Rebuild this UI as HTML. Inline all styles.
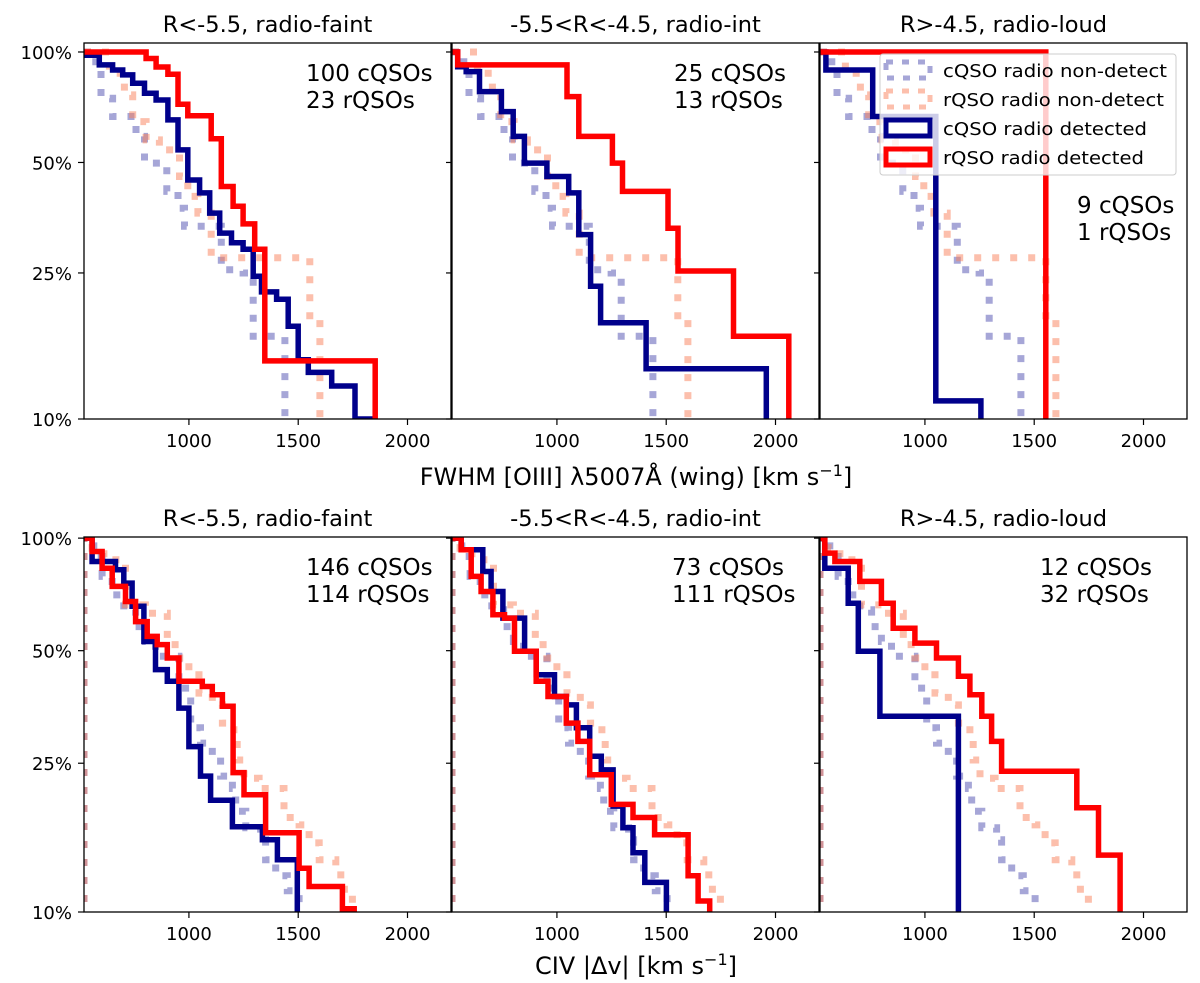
<!DOCTYPE html>
<html><head><meta charset="utf-8">
<style>
html,body{margin:0;padding:0;background:#fff;overflow:hidden;width:1200px;height:983px;}
svg{display:block;font-family:"DejaVu Sans","Liberation Sans",sans-serif;}
</style></head>
<body>
<svg id="fig" width="1200" height="983" viewBox="0 0 1200 983" xmlns="http://www.w3.org/2000/svg">
<rect x="0" y="0" width="1200" height="983" fill="#fff"/>
</svg>
<script>
// ---- data ----
const xTickValues = [1000, 1500, 2000];
const yTickValues = [100, 50, 25, 10];
const yTickLabels = ["100%", "50%", "25%", "10%"];
const topTitles = ["R<-5.5, radio-faint", "-5.5<R<-4.5, radio-int", "R>-4.5, radio-loud"];
const botTitles = ["R<-5.5, radio-faint", "-5.5<R<-4.5, radio-int", "R>-4.5, radio-loud"];
const topCountsC = ["100 cQSOs", "25 cQSOs", "9 cQSOs"];
const topCountsR = ["23 rQSOs", "13 rQSOs", "1 rQSOs"];
const botCountsC = ["146 cQSOs", "73 cQSOs", "12 cQSOs"];
const botCountsR = ["114 rQSOs", "111 rQSOs", "32 rQSOs"];

// top row: non-detect (shared)
const top_cnd_x = [520,552,598,651,758,797,899,950,980,1148,1248,1294,1439];
const top_cnd_p = [100,94.1,74.8,66.7,58.9,49.8,41.7,37.5,33.5,25.5,25,16.8,1];
const top_rnd_x = [520,636,705,743,804,865,957,995,1041,1102,1553,1599];
const top_rnd_p = [100,87.5,76.4,64.6,57.6,54.1,45.8,40.4,36.4,27.5,18.7,1];
// top-left
const tl_red_x = [520,804,850,904,950,995,1102,1148,1202,1248,1301,1347,1852];
const tl_red_p = [100,96,91,87,72,67,58,43,38,34,29,14.4,1];
const tl_blue_x = [520,590,651,697,743,797,850,904,950,995,1049,1095,1141,1195,1248,1294,1332,1401,1454,1500,1546,1653,1760,1829];
const tl_blue_p = [98,92.2,89.3,86.6,82.2,77.2,74.0,65.3,54.1,44.8,41.3,36.4,32.1,30.2,29.0,24.5,22.2,21.2,17.9,14.5,13.4,12.3,10,1];
// top-mid
const tm_red_x = [520,546,1046,1100,1254,1300,1508,1554,1808,2061];
const tm_red_p = [100,92.2,75.6,58.9,49.8,41.7,33.1,25.3,16.8,1];
const tm_blue_x = [520,546,585,646,746,800,851,954,1054,1100,1154,1200,1408,1958];
const tm_blue_p = [100,91.2,88.4,78.0,68.8,58.9,49.8,45.8,41.3,31.8,23.0,18.3,13.7,1];
// top-right
const tr_red_x = [520,1553];
const tr_red_p = [100,1];
const tr_blue_x = [520,547,761,1050,1256];
const tr_blue_p = [100,89.3,66.7,11.2,1];

// bottom row: non-detect (shared)
const bot_cnd_x = [520,565,603,649,702,756,801,847,954,1008,1053,1107,1145,1199,1214,1260,1328,1351,1397,1450,1504];
const bot_cnd_p = [100,89.3,79.0,70.5,64.3,58.0,52.9,48.3,39.7,31.1,28.3,26.1,23.1,21.4,18.6,16.8,15.6,13.8,12.5,11.4,1];
const bot_rnd_x = [520,557,611,710,801,901,954,1000,1046,1107,1153,1206,1221,1252,1321,1435,1504,1550,1596,1672,1695,1748];
const bot_rnd_p = [100,94.0,87.5,66.3,63.0,51.9,47.8,43.1,38.5,35.8,32.0,29.5,25.5,22.8,21.4,17.9,17.1,15.3,13.8,13.1,11.5,1];
// bottom-left
const bl_red_x = [520,557,603,649,710,756,809,855,901,954,1061,1107,1153,1202,1252,1351,1504,1550,1702,1756];
const bl_red_p = [100,92.1,83.1,74.3,67.7,59.8,54.6,51.9,47.8,41.4,40.1,38.1,35.5,23.6,20.6,16.3,13.1,11.7,10.2,1];
const bl_blue_x = [520,557,664,702,740,794,847,901,954,1000,1053,1099,1199,1336,1405,1496];
const bl_blue_p = [100,86.6,82.3,75.8,65.7,52.9,44.5,41.4,35.1,27.7,23.1,19.9,16.9,15.6,13.8,1];
// bottom-mid
const bm_red_x = [520,562,608,653,707,760,806,905,959,1043,1096,1150,1249,1348,1447,1600,1646,1699];
const bm_red_p = [100,93.1,79.0,72.0,62.4,61.1,49.8,41.4,37.7,32.0,28.6,23.3,19.4,17.9,16.1,12.5,10.7,1];
const bm_blue_x = [520,562,661,699,753,852,905,989,1043,1089,1150,1203,1257,1302,1348,1402,1501];
const bm_blue_p = [100,93.1,81.4,72.0,61.1,49.8,43.1,37.7,35.8,31.1,26.1,24.0,19.2,16.8,14.4,12.0,1];
// bottom-right
const br_red_x = [520,542,588,702,801,855,954,1053,1153,1206,1260,1305,1351,1695,1794,1893];
const br_red_p = [100,91.2,86.6,76.6,67.0,57.4,52.4,47.8,42.7,38.1,33.4,28.6,23.8,19.0,14.2,1];
const br_blue_x = [520,542,649,695,794,1153];
const br_blue_p = [100,83.1,67.0,49.8,33.4,1];

// ---- drawing ----
const NS = "http://www.w3.org/2000/svg";
const svg = document.getElementById('fig');
const XMIN = 520, XMAX = 2199, PW = 367;
const panelLefts = [84, 452, 820];
const rows = [
  {top: 43, bottom: 419, pmax: 105.8},
  {top: 537, bottom: 912, pmax: 100.7}
];
function mk(tag, attrs, parent) {
  const e = document.createElementNS(NS, tag);
  for (const k in attrs) e.setAttribute(k, attrs[k]);
  (parent || svg).appendChild(e);
  return e;
}
function xScale(left, v) { return left + (v - XMIN) / (XMAX - XMIN) * PW; }
function yScale(row, p) {
  const r = rows[row];
  const y = r.top + Math.log2(r.pmax / p) / Math.log2(r.pmax / 10) * (r.bottom - r.top);
  return Math.min(y, r.bottom + 8);
}
function stepPath(row, left, xs, ps, fromBottom) {
  let d = "";
  if (fromBottom) d = "M" + xScale(left, xs[0]).toFixed(1) + "," + (rows[row].bottom + 8) + " V" + yScale(row, ps[0]).toFixed(1);
  else d = "M" + xScale(left, xs[0]).toFixed(1) + "," + yScale(row, ps[0]).toFixed(1);
  for (let i = 1; i < xs.length; i++) {
    d += " H" + xScale(left, xs[i]).toFixed(1) + " V" + yScale(row, ps[i]).toFixed(1);
  }
  return d;
}
const defs = mk('defs', {});
const panelSeries = [
  [[tl_red_x, tl_red_p, tl_blue_x, tl_blue_p], [tm_red_x, tm_red_p, tm_blue_x, tm_blue_p], [tr_red_x, tr_red_p, tr_blue_x, tr_blue_p]],
  [[bl_red_x, bl_red_p, bl_blue_x, bl_blue_p], [bm_red_x, bm_red_p, bm_blue_x, bm_blue_p], [br_red_x, br_red_p, br_blue_x, br_blue_p]]
];
const panelNames = [["top-left", "top-middle", "top-right"], ["bottom-left", "bottom-middle", "bottom-right"]];

for (let row = 0; row < 2; row++) {
  const r = rows[row];
  for (let c = 0; c < 3; c++) {
    const left = panelLefts[c];
    const pname = panelNames[row][c];
    const cp = mk('clipPath', {id: 'clip' + row + c}, defs);
    mk('rect', {x: left, y: r.top, width: PW, height: r.bottom - r.top}, cp);
    const g = mk('g', {'clip-path': 'url(#clip' + row + c + ')'});
    
    
    const cx = row === 0 ? top_cnd_x : bot_cnd_x, cpv = row === 0 ? top_cnd_p : bot_cnd_p;
    const rx = row === 0 ? top_rnd_x : bot_rnd_x, rpv = row === 0 ? top_rnd_p : bot_rnd_p;
    const fb = row === 1;
    const l1 = mk('path', {d: stepPath(row, left, cx, cpv, fb), fill: 'none', stroke: '#00008b', 'stroke-opacity': 0.35, 'stroke-width': 7, 'stroke-dasharray': '7 11'}, g);
    
    
    const l2 = mk('path', {d: stepPath(row, left, rx, rpv, fb), fill: 'none', stroke: '#f9805a', 'stroke-opacity': 0.5, 'stroke-width': 7, 'stroke-dasharray': '7 11'}, g);
    
    
    const s = panelSeries[row][c];
    const l3 = mk('path', {d: stepPath(row, left, s[2], s[3], false), fill: 'none', stroke: '#00008b', 'stroke-width': 5.5}, g);
    
    
    const l4 = mk('path', {d: stepPath(row, left, s[0], s[1], false), fill: 'none', stroke: '#ff0000', 'stroke-width': 5.5}, g);
    
    

    const fr = mk('rect', {x: left, y: r.top, width: PW, height: r.bottom - r.top, fill: 'none', stroke: '#000', 'stroke-width': 1.3});
    
    

    xTickValues.forEach(v => {
      const x = xScale(left, v);
      mk('line', {x1: x, x2: x, y1: r.bottom, y2: r.bottom + 6, stroke: '#000', 'stroke-width': 1.2});
      const t = mk('text', {x: x, y: r.bottom + 28, 'text-anchor': 'middle', 'font-size': 18}); t.textContent = v;
      
      
    });
    yTickValues.forEach((p, i) => {
      const y = yScale(row, p);
      mk('line', {x1: left - 6, x2: left, y1: y, y2: y, stroke: '#000', 'stroke-width': 1.2});
      if (c === 0) {
        const t = mk('text', {x: left - 12, y: y + 7, 'text-anchor': 'end', 'font-size': 18}); t.textContent = yTickLabels[i];
        
        
      }
    });
    const tt = mk('text', {x: left + PW / 2, y: r.top - 11, 'text-anchor': 'middle', 'font-size': 22.5});
    tt.textContent = (row === 0 ? topTitles : botTitles)[c];
    
    
    let cxp, y1, y2;
    if (row === 0 && c === 2) { cxp = 1077; y1 = 213; y2 = 240; }
    else if (row === 0) { cxp = left + 222; y1 = 81; y2 = 108; }
    else { cxp = left + 222; y1 = 575; y2 = 602; }
    if (row === 1 && c > 0) cxp = left + 220;
    const c1 = mk('text', {x: cxp, y: y1, 'font-size': 23}); c1.textContent = (row === 0 ? topCountsC : botCountsC)[c];
    
    
    const c2 = mk('text', {x: cxp, y: y2, 'font-size': 23}); c2.textContent = (row === 0 ? topCountsR : botCountsR)[c];
    
    
  }
}
const xl1 = mk('text', {x: 636, y: 485, 'text-anchor': 'middle', 'font-size': 24});
xl1.innerHTML = 'FWHM [OIII] λ5007Å (wing) [km s<tspan dy="-9" font-size="16">−1</tspan><tspan dy="9">]</tspan>';


const xl2 = mk('text', {x: 636, y: 974, 'text-anchor': 'middle', 'font-size': 24});
xl2.innerHTML = 'CIV |Δv| [km s<tspan dy="-9" font-size="16">−1</tspan><tspan dy="9">]</tspan>';



const lg = mk('g', {});


mk('rect', {x: 880, y: 54, width: 296, height: 121, rx: 3, fill: '#fff', 'fill-opacity': 0.8, stroke: '#ccc', 'stroke-width': 1}, lg);
const legendLabels = ["cQSO radio non-detect", "rQSO radio non-detect", "cQSO radio detected", "rQSO radio detected"];
const legendColors = ["#00008b", "#f9805a", "#00008b", "#ff0000"];
const legendOpac = [0.35, 0.5, 1, 1];
legendLabels.forEach((lab, i) => {
  const y = 70 + i * 29;
  const h = mk('rect', {x: 886, y: y - 8, width: 44, height: 16, fill: 'none', stroke: legendColors[i], 'stroke-opacity': legendOpac[i], 'stroke-width': 5, 'stroke-dasharray': i < 2 ? '7 9' : 'none'}, lg);
  
  
  const t = mk('text', {x: 943, y: y + 7, 'font-size': 18, textLength: i === 0 ? 224 : (i === 1 ? 221 : (i === 2 ? 204 : 201)), lengthAdjust: 'spacingAndGlyphs'}, lg);
  t.textContent = lab;
  
  
});
</script>
</body></html>
